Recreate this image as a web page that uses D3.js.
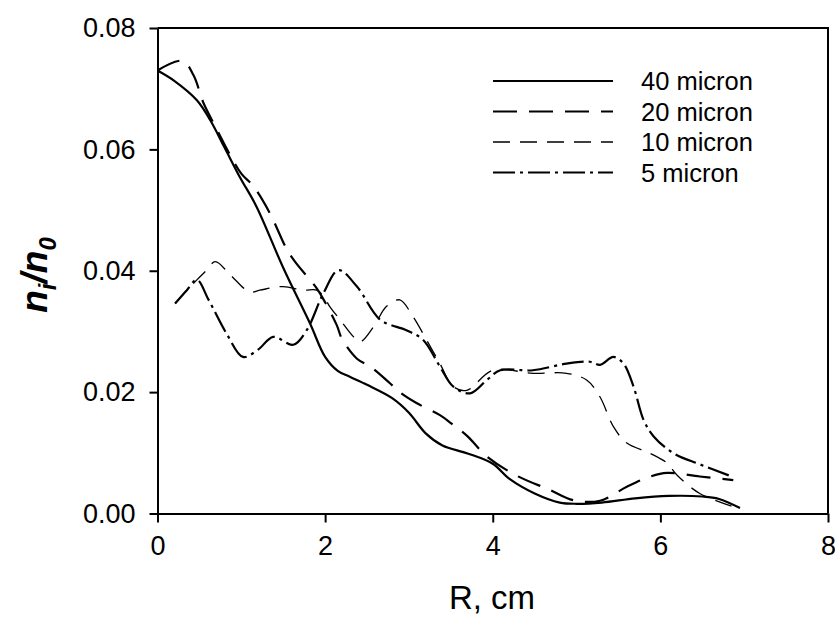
<!doctype html>
<html>
<head>
<meta charset="utf-8">
<script src="https://d3js.org/d3.v7.min.js"></script>
<style>
body { margin: 0; background: #fff; }
svg text { font-family: "Liberation Sans", Arial, sans-serif; fill: #000; }
.axis path, .axis line { stroke: #000; stroke-width: 2px; }
.axis text { font-size: 27px; }
</style>
</head>
<body>
<script>

// data (R in cm, n_i/n_0)
var r40 = [0, 0.2, 0.47, 0.63, 0.8, 0.98, 1.18, 1.5, 1.82, 2.0, 2.15, 2.3, 2.5, 2.8, 3.0, 3.2, 3.4, 3.7, 4.0, 4.2, 4.5, 4.8, 5.0, 5.3, 5.7, 6.1, 6.5, 6.7, 6.95];
var n40 = [0.073, 0.0713, 0.0681, 0.0648, 0.0603, 0.0555, 0.0506, 0.0405, 0.0313, 0.0258, 0.0235, 0.0225, 0.0212, 0.019, 0.0166, 0.0132, 0.0112, 0.0099, 0.0082, 0.0057, 0.0033, 0.0018, 0.0016, 0.0018, 0.0025, 0.0029, 0.0028, 0.0024, 0.0009];

var r20 = [0, 0.3, 0.43, 0.55, 0.7, 0.85, 1.0, 1.14, 1.34, 1.54, 1.64, 1.9, 2.0, 2.14, 2.2, 2.38, 2.54, 2.77, 2.89, 3.09, 3.37, 3.5, 3.7, 3.93, 4.29, 4.68, 4.96, 5.28, 5.6, 5.88, 6.08, 6.47, 6.87];
var n20 = [0.073, 0.0746, 0.0722, 0.0676, 0.0635, 0.0595, 0.056, 0.054, 0.0495, 0.0436, 0.0415, 0.0371, 0.0348, 0.031, 0.0288, 0.0255, 0.0242, 0.0215, 0.02, 0.0182, 0.0162, 0.0149, 0.0127, 0.0094, 0.0062, 0.0039, 0.0022, 0.0021, 0.0044, 0.0061, 0.0067, 0.0061, 0.0055];

var r10 = [0.21, 0.35, 0.47, 0.58, 0.69, 0.87, 1.1, 1.22, 1.5, 1.74, 1.9, 1.98, 2.06, 2.18, 2.34, 2.42, 2.58, 2.73, 2.89, 3.05, 3.21, 3.37, 3.53, 3.69, 4.0, 4.48, 4.88, 5.12, 5.28, 5.44, 5.6, 5.88, 6.08, 6.2, 6.47, 6.87];
var n10 = [0.0346, 0.0368, 0.0385, 0.04, 0.0415, 0.0393, 0.0365, 0.0368, 0.0374, 0.0368, 0.0368, 0.0358, 0.034, 0.0319, 0.0291, 0.0283, 0.0308, 0.0341, 0.0352, 0.0324, 0.0286, 0.0247, 0.0209, 0.0203, 0.0236, 0.0231, 0.0231, 0.022, 0.0192, 0.0143, 0.0116, 0.0099, 0.0083, 0.0063, 0.0033, 0.0011];

var r5 = [0.21, 0.35, 0.47, 0.61, 0.83, 1.02, 1.2, 1.38, 1.62, 1.78, 1.98, 2.16, 2.38, 2.66, 2.97, 3.17, 3.37, 3.53, 3.73, 3.93, 4.09, 4.48, 4.88, 5.16, 5.28, 5.44, 5.56, 5.68, 5.8, 5.92, 6.16, 6.47, 6.87];
var n5 = [0.0346, 0.0368, 0.0385, 0.0352, 0.0295, 0.0258, 0.027, 0.0291, 0.0278, 0.0302, 0.0363, 0.0401, 0.0374, 0.0319, 0.0302, 0.0286, 0.0242, 0.0209, 0.0198, 0.022, 0.0236, 0.0236, 0.0247, 0.025, 0.0245, 0.0258, 0.0247, 0.0209, 0.0154, 0.0127, 0.0099, 0.0081, 0.006];

var labels = ["40 micron", "20 micron", "10 micron", "5 micron"];
var xTicks = [0, 2, 4, 6, 8];
var yTicks = [0, 0.02, 0.04, 0.06, 0.08];

// set the dimensions and margins of the graph
var margin = {top: 28, right: 7, bottom: 108.5, left: 157.5},
    width = 835 - margin.left - margin.right,
    height = 622 - margin.top - margin.bottom;

var x = d3.scaleLinear().domain([0, 8]).range([0, width]);
var y = d3.scaleLinear().domain([0, 0.08]).range([height, 0]);

var svg = d3.select("body").append("svg")
    .attr("width", 835)
    .attr("height", 622)
  .append("g")
    .attr("transform", "translate(" + margin.left + "," + margin.top + ")");

// frame (top and right sides)
svg.append("path")
    .attr("d", "M0,0H" + width + "V" + height)
    .attr("fill", "none")
    .attr("stroke", "#000")
    .attr("stroke-width", 2);

// axes
svg.append("g")
    .attr("class", "axis")
    .attr("transform", "translate(0," + height + ")")
    .call(d3.axisBottom(x).tickValues(xTicks).tickFormat(d3.format("d"))
      .tickSize(9).tickSizeOuter(0).tickPadding(13));

svg.append("g")
    .attr("class", "axis")
    .call(d3.axisLeft(y).tickValues(yTicks).tickFormat(d3.format(".2f"))
      .tickSize(8).tickSizeOuter(0).tickPadding(14));

// axis titles
svg.append("text")
    .attr("x", 492 - margin.left)
    .attr("y", 609 - margin.top)
    .attr("text-anchor", "middle")
    .style("font-size", "33px")
    .text("R, cm");

var yt = svg.append("text")
    .attr("transform", "translate(" + (47 - margin.left) + "," + (275 - margin.top) + ") rotate(-90)")
    .attr("text-anchor", "middle")
    .style("font-size", "37px")
    .style("font-weight", "bold")
    .style("font-style", "italic");
yt.append("tspan").text("n");
yt.append("tspan").attr("dy", 9).style("font-size", "24px").text("i");
yt.append("tspan").attr("dy", -9).text("/n");
yt.append("tspan").attr("dy", 9).style("font-size", "24px").text("0");

// the four curves
var series = [
  {r: r40, n: n40, dash: null, w: 2.2},
  {r: r20, n: n20, dash: "24,12", w: 2.2},
  {r: r10, n: n10, dash: "17,10", w: 1.3},
  {r: r5, n: n5, dash: "22,5,3,5", w: 2.2}
];

var line = d3.line()
    .x(function(d) { return x(d[0]); })
    .y(function(d) { return y(d[1]); })
    .curve(d3.curveCatmullRom.alpha(0.5));

series.forEach(function(s) {
  svg.append("path")
      .datum(d3.zip(s.r, s.n))
      .attr("fill", "none")
      .attr("stroke", "#000")
      .attr("stroke-width", s.w)
      .attr("stroke-dasharray", s.dash)
      .attr("d", line);
});

// legend
var leg = svg.append("g")
    .attr("transform", "translate(" + (493 - margin.left) + "," + (81 - margin.top) + ")");

series.forEach(function(s, i) {
  leg.append("line")
      .attr("x1", 0).attr("x2", 120)
      .attr("y1", i * 30.5).attr("y2", i * 30.5)
      .attr("stroke", "#000")
      .attr("stroke-width", s.w)
      .attr("stroke-dasharray", s.dash);
  leg.append("text")
      .attr("x", 148)
      .attr("y", i * 30.5 + 9)
      .style("font-size", "25.5px")
      .text(labels[i]);
});

</script>
</body>
</html>
